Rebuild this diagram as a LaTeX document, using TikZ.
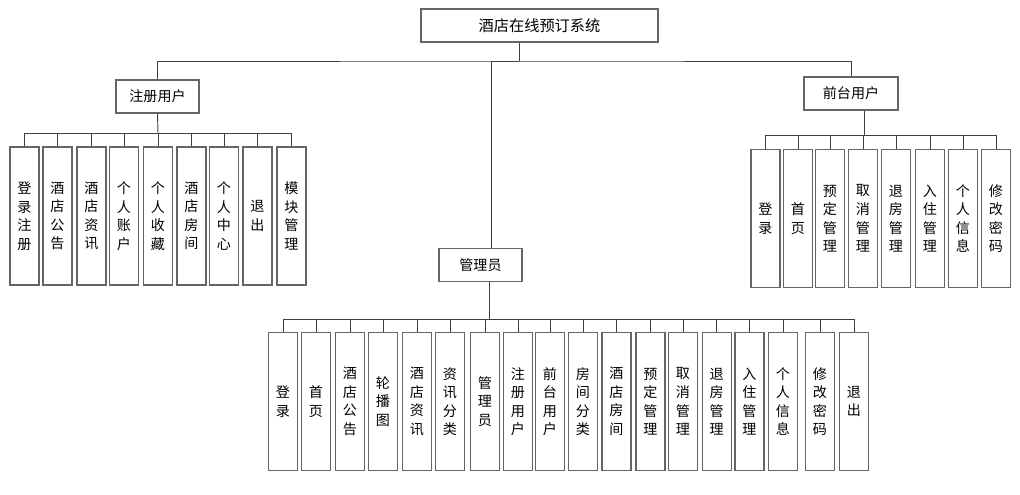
\documentclass[tikz,border=0pt]{standalone}
\usepackage{fontspec}
\newfontfamily\cjk{Noto Sans CJK SC}
\usetikzlibrary{calc}

\begin{document}
\begin{tikzpicture}[
    x=0.03cm, y=-0.03cm,
    box/.style={draw=black!60, line width=0.9pt, fill=white, inner sep=0pt, minimum height=0.99cm, font=\cjk\fontsize{12}{14}\selectfont},
    leaf/.style={box, minimum width=0.87cm, minimum height=4.14cm, align=center, font=\cjk\fontsize{12}{15.8}\selectfont},
    wire/.style={black!75, line width=0.8pt}
]
\useasboundingbox (0,0) rectangle (1020,494);

% top level
\node[box, minimum width=7.11cm, font=\cjk\fontsize{13}{15}\selectfont] (root) at (539.5,25.5) {酒店在线预订系统};
\node[box, minimum width=2.49cm] (reg) at (157.5,96.5) {注册用户};
\node[box, minimum width=2.82cm] (front) at (851,93.5) {前台用户};
\node[box, minimum width=2.49cm] (admin) at (480.5,265) {管理员};

\coordinate (mainbus) at (519,61);
\coordinate (regbus) at (158,133);
\coordinate (frontbus) at (864,135);
\coordinate (adminbus) at (489,319);

% registered user
\node[leaf] (r1) at (24.5,216) {登\\录\\注\\册};
\node[leaf] (r2) at (57.5,216) {酒\\店\\公\\告};
\node[leaf] (r3) at (91.5,216) {酒\\店\\资\\讯};
\node[leaf] (r4) at (124,216) {个\\人\\账\\户};
\node[leaf] (r5) at (158,216) {个\\人\\收\\藏};
\node[leaf] (r6) at (191.5,216) {酒\\店\\房\\间};
\node[leaf] (r7) at (224,216) {个\\人\\中\\心};
\node[leaf] (r8) at (257.5,216) {退\\出};
\node[leaf] (r9) at (291.5,216) {模\\块\\管\\理};

% front desk user
\node[leaf] (f1) at (765.5,218.5) {登\\录};
\node[leaf] (f2) at (798,218.5) {首\\页};
\node[leaf] (f3) at (830,218.5) {预\\定\\管\\理};
\node[leaf] (f4) at (863,218.5) {取\\消\\管\\理};
\node[leaf] (f5) at (896,218.5) {退\\房\\管\\理};
\node[leaf] (f6) at (930,218.5) {入\\住\\管\\理};
\node[leaf] (f7) at (963,218.5) {个\\人\\信\\息};
\node[leaf] (f8) at (996,218.5) {修\\改\\密\\码};

% administrator
\node[leaf] (a1) at (283,401.5) {登\\录};
\node[leaf] (a2) at (316,401.5) {首\\页};
\node[leaf] (a3) at (350,401.5) {酒\\店\\公\\告};
\node[leaf] (a4) at (383,401.5) {轮\\播\\图};
\node[leaf] (a5) at (417,401.5) {酒\\店\\资\\讯};
\node[leaf] (a6) at (450,401.5) {资\\讯\\分\\类};
\node[leaf] (a7) at (485,401.5) {管\\理\\员};
\node[leaf] (a8) at (518,401.5) {注\\册\\用\\户};
\node[leaf] (a9) at (550,401.5) {前\\台\\用\\户};
\node[leaf] (a10) at (583,401.5) {房\\间\\分\\类};
\node[leaf] (a11) at (616.5,401.5) {酒\\店\\房\\间};
\node[leaf] (a12) at (650.5,401.5) {预\\定\\管\\理};
\node[leaf] (a13) at (683,401.5) {取\\消\\管\\理};
\node[leaf] (a14) at (716.7,401.5) {退\\房\\管\\理};
\node[leaf] (a15) at (749.5,401.5) {入\\住\\管\\理};
\node[leaf] (a16) at (783,401.5) {个\\人\\信\\息};
\node[leaf] (a17) at (820,401.5) {修\\改\\密\\码};
\node[leaf] (a18) at (854,401.5) {退\\出};

% wires
\draw[wire] ($(root.south)+(-20.5,0)$) -- (mainbus);
\draw[wire] (reg.north) |- (mainbus) -| (front.north);
\draw[wire] ($(admin.north)+(10.5,0)$) |- (mainbus);

\draw[wire] (reg.south) -- (regbus);
\foreach \i in {1,...,9} \draw[wire] (r\i.north) |- (regbus);

\draw[wire] ($(front.south)+(13,0)$) -- (frontbus);
\foreach \i in {1,...,8} \draw[wire] (f\i.north) |- (frontbus);

\draw[wire] ($(admin.south)+(8.5,0)$) -- (adminbus);
\foreach \i in {1,...,18} \draw[wire] (a\i.north) |- (adminbus);
\end{tikzpicture}
\end{document}
